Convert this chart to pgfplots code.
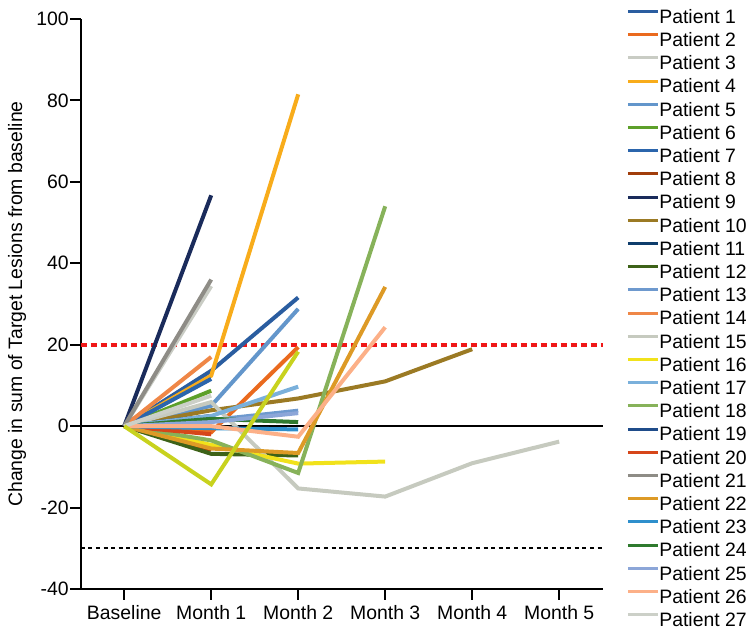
\documentclass[border=0pt]{standalone}
\usepackage{fontspec}
\setmainfont{Liberation Sans}
\usepackage{pgfplots}
\pgfplotsset{compat=1.18}
\definecolor{p1}{HTML}{2A5DA0}
\definecolor{p2}{HTML}{EA6A1E}
\definecolor{p3}{HTML}{C9CCC4}
\definecolor{p4}{HTML}{F8AC1B}
\definecolor{p5}{HTML}{6396CB}
\definecolor{p6}{HTML}{5DA02A}
\definecolor{p7}{HTML}{2B65AC}
\definecolor{p8}{HTML}{A13D0B}
\definecolor{p9}{HTML}{1A2B5B}
\definecolor{p10}{HTML}{9B7A24}
\definecolor{p11}{HTML}{0E3D6C}
\definecolor{p12}{HTML}{3D6218}
\definecolor{p13}{HTML}{6E99CE}
\definecolor{p14}{HTML}{EF8747}
\definecolor{p15}{HTML}{C6CABF}
\definecolor{p16}{HTML}{F1E21B}
\definecolor{p17}{HTML}{7AB0DB}
\definecolor{p18}{HTML}{87B25A}
\definecolor{p19}{HTML}{1F4C8A}
\definecolor{p20}{HTML}{D6461A}
\definecolor{p21}{HTML}{8E8C86}
\definecolor{p22}{HTML}{DD9A26}
\definecolor{p23}{HTML}{2E8FCC}
\definecolor{p24}{HTML}{2F7A2E}
\definecolor{p25}{HTML}{8CA6D8}
\definecolor{p26}{HTML}{FCB088}
\definecolor{p27}{HTML}{CCD0C8}
\definecolor{lime}{HTML}{C8D21E}
\definecolor{redline}{HTML}{F01818}
\begin{document}
\begin{tikzpicture}
\path[use as bounding box] (0pt,0pt) rectangle (375pt,314.5pt);
\begin{axis}[
  at={(40.35pt,20pt)}, anchor=south west,
  scale only axis, width=261pt, height=285pt,
  xmin=-0.5, xmax=5.5, ymin=-40, ymax=100,
  axis x line*=bottom, axis y line*=left,
  axis line style={black, line width=1pt, -},
  xtick={0,1,2,3,4,5},
  xticklabels={Baseline, Month 1, Month 2, Month 3, Month 4, Month 5},
  ytick={-40,-20,0,20,40,60,80,100},
  tick align=outside, major tick length=5.3pt,
  tick style={black, line width=1pt},
  ticklabel style={font=\fontsize{9.7}{11}\selectfont},
  yticklabel style={inner sep=0pt, xshift=-0.5pt},
  xticklabel style={inner sep=0pt, yshift=-2.5pt},
  /pgf/number format/assume math mode=true,
  ylabel={Change in sum of Target Lesions from baseline},
  ylabel style={at={(axis description cs:-0.122,0.5)}, anchor=center, font=\fontsize{9.7}{11}\selectfont},
  clip=false,
  every axis plot/.append style={line width=2pt, no markers},
  legend style={at={(axis description cs:1.033,1.0246)}, anchor=north west, draw=none, fill=none,
    font=\fontsize{9.7}{11}\selectfont, row sep=2.6pt,
    nodes={inner sep=0pt, text height=7pt, text depth=2pt},
    /tikz/every even column/.append style={column sep=4pt}},
  legend cell align=left,
  legend image code/.code={\draw[#1, line width=1.5pt] (0pt,3.4pt) -- (15pt,3.4pt);},
]
\addplot[forget plot, black, line width=1pt] coordinates {(-0.5,0) (5.5,0)};
\addplot[forget plot, redline, line width=2pt, dash pattern=on 3pt off 2pt] coordinates {(-0.5,20) (5.5,20)};
\addplot[forget plot, black, line width=1pt, dash pattern=on 2pt off 1.8pt] coordinates {(-0.5,-30) (5.5,-30)};

\addplot[p1] coordinates {(0,0) (1,13.6) (2,31.6)}; \addlegendentry{Patient 1}
\addplot[p2] coordinates {(0,0) (1,-1.5) (2,19.4)}; \addlegendentry{Patient 2}
\addplot[p3] coordinates {(0,0) (1,34.4)}; \addlegendentry{Patient 3}
\addplot[p4] coordinates {(0,0) (1,12.4) (2,81.5)}; \addlegendentry{Patient 4}
\addplot[p5] coordinates {(0,0) (1,5.0) (2,28.8)}; \addlegendentry{Patient 5}
\addplot[p6] coordinates {(0,0) (1,8.7)}; \addlegendentry{Patient 6}
\addplot[p7] coordinates {(0,0) (1,11.6)}; \addlegendentry{Patient 7}
\addplot[p8] coordinates {(0,0) (1,-5.8)}; \addlegendentry{Patient 8}
\addplot[p9] coordinates {(0,0) (1,56.7)}; \addlegendentry{Patient 9}
\addplot[p10] coordinates {(0,0) (1,3.9) (2,6.8) (3,11.0) (4,18.9)}; \addlegendentry{Patient 10}
\addplot[p11] coordinates {(0,0) (1,2.5)}; \addlegendentry{Patient 11}
\addplot[p12] coordinates {(0,0) (1,-6.8) (2,-7.2)}; \addlegendentry{Patient 12}
\addplot[p13] coordinates {(0,0) (1,1.5) (2,3.8)}; \addlegendentry{Patient 13}
\addplot[p14] coordinates {(0,0) (1,17.0)}; \addlegendentry{Patient 14}
\addplot[p15] coordinates {(0,0) (1,5.9) (2,-15.3) (3,-17.3) (4,-9.1) (5,-3.8)}; \addlegendentry{Patient 15}
\addplot[p16] coordinates {(0,0) (1,-4.6) (2,-9.2) (3,-8.7)}; \addlegendentry{Patient 16}
\addplot[p17] coordinates {(0,0) (1,2.5) (2,9.7)}; \addlegendentry{Patient 17}
\addplot[p18] coordinates {(0,0) (1,-3.5) (2,-11.5) (3,54.0)}; \addlegendentry{Patient 18}
\addplot[p19] coordinates {(0,0) (1,1.5)}; \addlegendentry{Patient 19}
\addplot[p20] coordinates {(0,0) (1,-2.0)}; \addlegendentry{Patient 20}
\addplot[p21] coordinates {(0,0) (1,36.0)}; \addlegendentry{Patient 21}
\addplot[p22] coordinates {(0,0) (1,-5.5) (2,-6.6) (3,34.2)}; \addlegendentry{Patient 22}
\addplot[p23] coordinates {(0,0) (1,-0.5) (2,-0.8)}; \addlegendentry{Patient 23}
\addplot[p24] coordinates {(0,0) (1,1.8) (2,1.0)}; \addlegendentry{Patient 24}
\addplot[p25] coordinates {(0,0) (1,1.0) (2,3.2)}; \addlegendentry{Patient 25}
\addplot[p26] coordinates {(0,0) (1,0.0) (2,-2.6) (3,24.3)}; \addlegendentry{Patient 26}
\addplot[p27] coordinates {(0,0) (1,7.5)}; \addlegendentry{Patient 27}
\addplot[forget plot, lime] coordinates {(0,0) (1,-14.3) (2,18.3)};
\end{axis}
\end{tikzpicture}
\end{document}
